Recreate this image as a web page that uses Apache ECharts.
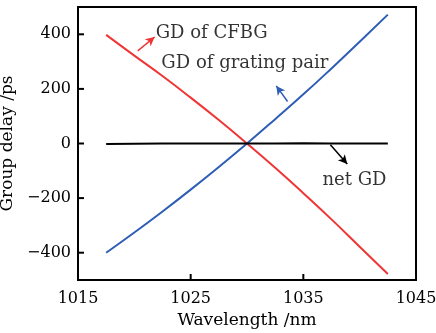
<!DOCTYPE html>
<html>
<head>
<meta charset="utf-8">
<script src="https://cdn.jsdelivr.net/npm/echarts@6/dist/echarts.min.js"></script>
<style>
    html, body { margin: 0; padding: 0; background: #fff; }
    #chart { width: 436px; height: 333px; }
</style>
</head>
<body>
<div id="chart"></div>
<script>
// wavelength samples (nm)
var wavelength = [1017.5, 1020, 1022.5, 1025, 1027.5, 1030, 1032.5, 1035, 1037.5, 1040, 1042.5];
// group delay of the chirped fibre Bragg grating (ps)
var gdCfbg = [398, 322, 247, 168, 86, 0, -89, -182, -278, -378, -478];
// group delay of the grating pair (ps)
var gdGrating = [-400, -326, -249, -169, -86, 0, 89, 180, 275, 373, 472];
// net group delay (ps)
var gdNet = [-2, -1, 0, 0, 0, 0, 0, 1, 0, 0, 0];

var xTicks = [1015, 1025, 1035, 1045];
var yTicks = [-400, -200, 0, 200, 400];

// annotation texts and arrows [from, to] in data units
var notes = [
    {name: 'GD of CFBG', value: [1021.9, 405]},
    {name: 'GD of grating pair', value: [1022.4, 295]},
    {name: 'net GD', value: [1036.7, -134]}
];
var arrowCfbg = [[1020.3, 339], [1021.8, 390]];
var arrowGrating = [[1033.6, 154], [1032.6, 211]];
var arrowNet = [[1037.4, -5], [1038.9, -75]];

var xMin = 1015, xMax = 1045, yMin = -500, yMax = 500;
var font = 'DejaVu Serif';

var pairs = function (ys) {
    var out = [];
    for (var i = 0; i < wavelength.length; i++) {
        out.push([wavelength[i], ys[i]]);
    }
    return out;
};

var arrowLine = function (a, color) {
    return {
        silent: true,
        symbol: ['none', 'arrow'],
        symbolSize: [7, 9],
        label: {show: false},
        lineStyle: {color: color, width: 1.5, type: 'solid'},
        data: [[{coord: a[0]}, {coord: a[1]}]]
    };
};

var thisChart = echarts.init(document.getElementById('chart'));
var option = {
    animation: false,
    grid: {
        left: 78, top: 7, right: 20, bottom: 53,
        outerBoundsMode: 'none',
        containLabel: false,
        show: true, borderColor: '#000', borderWidth: 2
    },
    xAxis: {
        type: 'value',
        min: xMin,
        max: xMax,
        interval: 5,
        name: 'Wavelength /nm',
        nameLocation: 'middle',
        nameGap: 30,
        nameTextStyle: {fontFamily: font, fontSize: 17, color: '#000'},
        axisLine: {onZero: false, lineStyle: {color: '#000', width: 2}},
        axisTick: {show: false},
        axisLabel: {
            customValues: xTicks,
            margin: 11,
            fontFamily: font,
            fontSize: 16,
            color: '#000',
            formatter: function (v) {
                return String(v);
            }
        },
        splitLine: {show: false}
    },
    yAxis: {
        type: 'value',
        min: yMin,
        max: yMax,
        interval: 100,
        name: 'Group delay /ps',
        nameLocation: 'middle',
        nameGap: 50,
        nameTextStyle: {fontFamily: font, fontSize: 17, color: '#000'},
        axisLine: {onZero: false, lineStyle: {color: '#000', width: 2}},
        axisTick: {show: false},
        axisLabel: {
            customValues: yTicks,
            margin: 7,
            fontFamily: font,
            fontSize: 16,
            color: '#000',
            formatter: function (v) {
                return String(v).replace('-', '\u2212');
            }
        },
        splitLine: {show: false}
    },
    series: [{
        name: 'GD of CFBG',
        type: 'line',
        smooth: true,
        showSymbol: false,
        data: pairs(gdCfbg),
        lineStyle: {color: '#f03535', width: 2},
        itemStyle: {color: '#f03535'},
        markLine: arrowLine(arrowCfbg, '#f03535')
    }, {
        name: 'GD of grating pair',
        type: 'line',
        smooth: true,
        showSymbol: false,
        data: pairs(gdGrating),
        lineStyle: {color: '#2d5db5', width: 2},
        itemStyle: {color: '#2d5db5'},
        markLine: arrowLine(arrowGrating, '#2d5db5')
    }, {
        name: 'net GD',
        type: 'line',
        showSymbol: false,
        data: pairs(gdNet),
        lineStyle: {color: '#000', width: 2},
        itemStyle: {color: '#000'},
        markLine: arrowLine(arrowNet, '#000')
    }, {
        name: 'notes',
        type: 'scatter',
        symbolSize: 0,
        silent: true,
        data: notes,
        label: {
            show: true,
            position: 'right',
            distance: 0,
            formatter: '{b}',
            fontFamily: font,
            fontSize: 18,
            color: '#000'
        }
    }]
};
thisChart.setOption(option);

// inward ticks, placed through the chart's own scales
var tickLen = 6;
var ticks = [];
for (var i = 0; i < xTicks.length; i++) {
    var p = thisChart.convertToPixel({gridIndex: 0}, [xTicks[i], yMin]);
    ticks.push({
        type: 'line', z: 100, silent: true,
        shape: {x1: p[0], y1: p[1], x2: p[0], y2: p[1] - tickLen},
        style: {stroke: '#000', lineWidth: 2}
    });
}
for (var j = 0; j < yTicks.length; j++) {
    var q = thisChart.convertToPixel({gridIndex: 0}, [xMin, yTicks[j]]);
    ticks.push({
        type: 'line', z: 100, silent: true,
        shape: {x1: q[0], y1: q[1], x2: q[0] + tickLen, y2: q[1]},
        style: {stroke: '#000', lineWidth: 2}
    });
}
thisChart.setOption({graphic: ticks});
</script>
</body>
</html>
